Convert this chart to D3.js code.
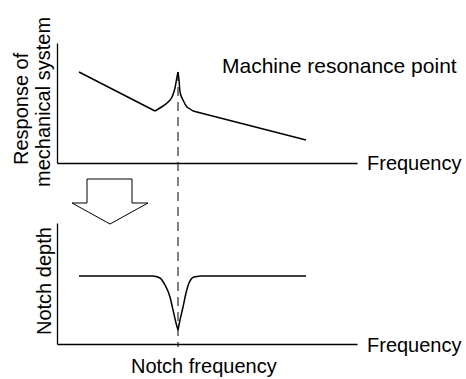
<!DOCTYPE html>
<html>
<head>
<meta charset="utf-8">
<script src="https://cdn.jsdelivr.net/npm/d3@7"></script>
<style>
  html, body { margin: 0; padding: 0; background: #fff; }
  svg { display: block; }
  text { font-family: "Liberation Sans", Arial, sans-serif; fill: #000; }
</style>
</head>
<body>
<svg id="chart" width="466" height="379"></svg>
<script>
// ---- Data (frequency in arbitrary units, response / depth in arbitrary units) ----
const responseFreq  = [22, 98, 103, 110, 115, 118, 120, 121, 122, 123, 126, 130, 133, 136, 249];
const responseValue = [91, 52, 55, 60, 66, 75, 86, 91, 83, 71, 63, 56, 54, 52, 23];

const notchFreq  = [22, 96, 103, 108, 113, 116, 119, 121, 123, 126, 129, 132, 137, 144, 249];
const notchValue = [68, 68, 66, 59, 47, 34, 21, 14, 24, 37, 51, 61, 67, 68, 68];

const resonanceFreq = 121;

const labels = {
  topY: ["Response of", "mechanical system"],
  bottomY: "Notch depth",
  xAxis: "Frequency",
  resonance: "Machine resonance point",
  notch: "Notch frequency"
};

// ---- Drawing ----
const svg = d3.select("#chart");

const x = d3.scaleLinear().domain([0, 300]).range([57, 357]);
const yTop = d3.scaleLinear().domain([0, 120]).range([163, 43]);
const yBot = d3.scaleLinear().domain([0, 121]).range([344, 223]);

function drawAxes(yScale) {
  const gx = svg.append("g").attr("transform", `translate(0,${yScale(0)})`)
    .call(d3.axisBottom(x).tickValues([]).tickSizeOuter(0));
  const gy = svg.append("g").attr("transform", `translate(${x(0)},0)`)
    .call(d3.axisLeft(yScale).tickValues([]).tickSizeOuter(0));
  [gx, gy].forEach(g => g.select(".domain").attr("stroke", "#000").attr("stroke-width", 1.3));
}
drawAxes(yTop);
drawAxes(yBot);

// dashed resonance line
svg.append("line")
  .attr("x1", x(resonanceFreq)).attr("x2", x(resonanceFreq))
  .attr("y1", yTop(91)).attr("y2", yBot(0) + 3)
  .attr("stroke", "#000").attr("stroke-width", 1)
  .attr("stroke-dasharray", "9,6");

// curves: straight outer segments, smooth flanks with a cusp at the resonance
function drawCurve(xs, vs, yScale) {
  const pts = xs.map((f, i) => [x(f), yScale(vs[i])]);
  const peak = xs.indexOf(resonanceFreq);
  const lin = d3.line();
  const mono = d3.line().curve(d3.curveMonotoneX);
  const d = lin(pts.slice(0, 2)) +
            mono(pts.slice(1, peak + 1)) +
            mono(pts.slice(peak, pts.length - 1)) +
            lin(pts.slice(pts.length - 2));
  svg.append("path").attr("d", d)
    .attr("fill", "none").attr("stroke", "#000").attr("stroke-width", 1.5)
    .attr("stroke-linejoin", "round");
}
drawCurve(responseFreq, responseValue, yTop);
drawCurve(notchFreq, notchValue, yBot);

// hollow down arrow between the panels
const arrow = [[87,179],[132,179],[132,203],[148,203],[110,224],[72,203],[87,203]];
svg.append("path")
  .attr("d", d3.line()(arrow) + "Z")
  .attr("fill", "#fff").attr("stroke", "#000").attr("stroke-width", 1);

// texts
svg.append("text").attr("x", 222).attr("y", 73)
  .attr("font-size", 21).text(labels.resonance);
svg.append("text").attr("x", 367).attr("y", 170)
  .attr("font-size", 20).text(labels.xAxis);
svg.append("text").attr("x", 367).attr("y", 352)
  .attr("font-size", 20).text(labels.xAxis);
svg.append("text").attr("x", 131).attr("y", 373)
  .attr("font-size", 20).text(labels.notch);

svg.append("text").attr("transform", "translate(28,165) rotate(-90)")
  .attr("font-size", 20).text(labels.topY[0]);
svg.append("text").attr("transform", "translate(50,187) rotate(-90)")
  .attr("font-size", 20).text(labels.topY[1]);
svg.append("text").attr("transform", "translate(51,335) rotate(-90)")
  .attr("font-size", 20).text(labels.bottomY);
</script>
</body>
</html>
